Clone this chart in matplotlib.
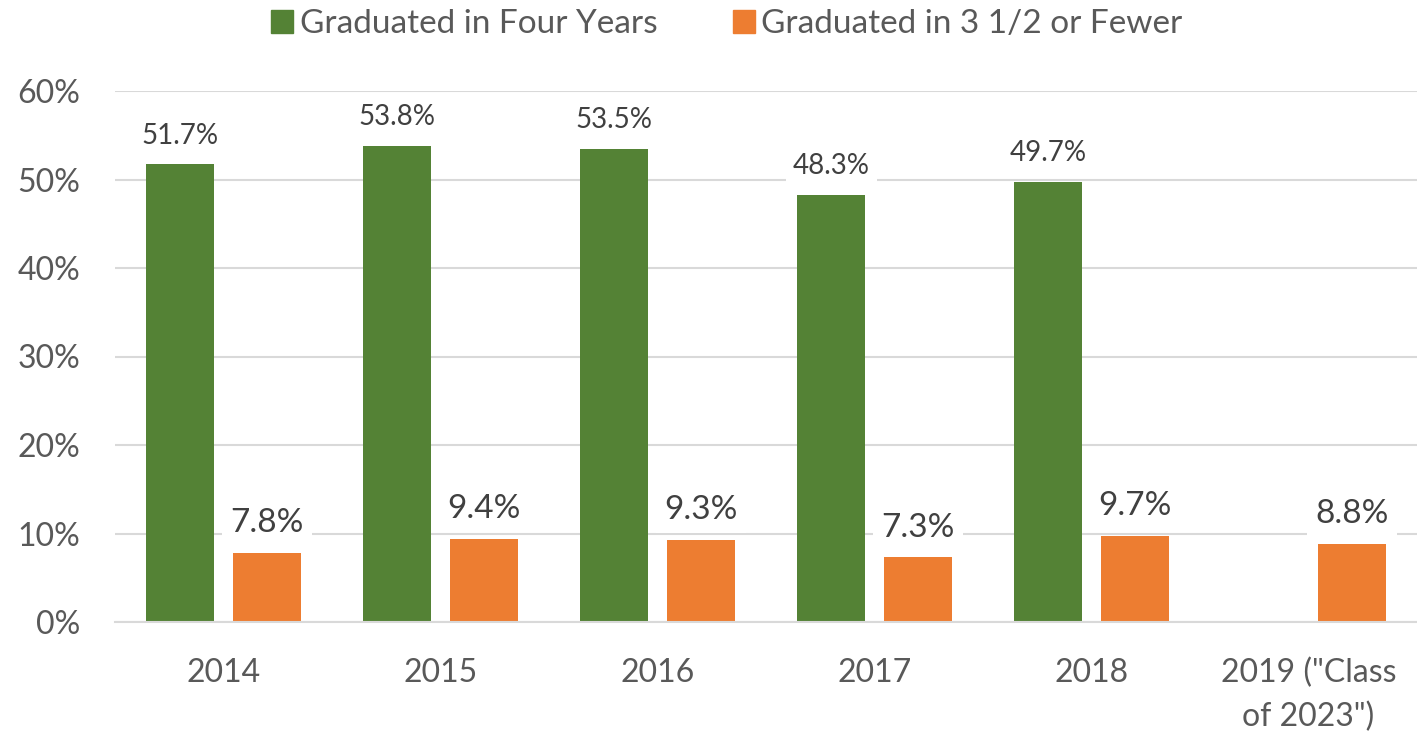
import matplotlib.pyplot as plt
import numpy as np
from matplotlib.patches import Patch

plt.rcParams['font.family'] = ['Lato', 'DejaVu Sans']

categories = ['2014', '2015', '2016', '2017', '2018', '2019 ("Class\nof 2023")']
four_years = [51.7, 53.8, 53.5, 48.3, 49.7, np.nan]
three_half = [7.8, 9.4, 9.3, 7.3, 9.7, 8.8]
series_names = ['Graduated in Four Years', 'Graduated in 3 1/2 or Fewer']

GREEN = '#548235'
ORANGE = '#ED7D31'
TICK_COLOR = '#595959'
LABEL_COLOR = '#404040'
GRID_COLOR = '#d9d9d9'

fig = plt.figure(figsize=(14.17, 7.33), dpi=100)
ax = fig.add_axes([115 / 1417, 1 - 622 / 733, 1 - 115 / 1417, (622 - 91) / 733])

x = np.arange(len(categories))
width = 0.315
offset = 0.2

ax.bar(x - offset, four_years, width, color=GREEN, zorder=2)
ax.bar(x + offset, three_half, width, color=ORANGE, zorder=2)

# white boxes behind the value labels hide the gridlines like in excel
box = dict(boxstyle='square,pad=0.25', fc='white', ec='none')
for xi, v in zip(x, four_years):
    if np.isnan(v):
        continue
    ax.annotate(f'{v:.1f}%', (xi - offset, v), xytext=(0, 15), textcoords='offset points',
                ha='center', va='baseline', fontsize=20, color=LABEL_COLOR, bbox=box, zorder=3)
for xi, v in zip(x, three_half):
    ax.annotate(f'{v:.1f}%', (xi + offset, v), xytext=(0, 15), textcoords='offset points',
                ha='center', va='baseline', fontsize=24, color=LABEL_COLOR, bbox=box, zorder=3)

ax.set_xlim(-0.5, len(categories) - 0.5)
ax.set_ylim(0, 60)
ax.set_yticks(np.arange(0, 61, 10))
ax.set_yticklabels([f'{t}%' for t in range(0, 61, 10)])
ax.set_xticks(x)
ax.set_xticklabels(categories, linespacing=1.55)
ax.yaxis.grid(True, color=GRID_COLOR, linewidth=1.5, zorder=0)
ax.set_axisbelow(True)
for s in ['top', 'right', 'left']:
    ax.spines[s].set_visible(False)
ax.spines['bottom'].set_color(GRID_COLOR)
ax.spines['bottom'].set_linewidth(1.5)
ax.tick_params(axis='both', length=0, colors=TICK_COLOR)
ax.tick_params(axis='y', labelsize=23, pad=25)
ax.tick_params(axis='x', labelsize=23, pad=26)

handles = [Patch(color=GREEN), Patch(color=ORANGE)]
fig.legend(handles, series_names, loc='center', bbox_to_anchor=(0.513, 0.967), ncol=2,
           frameon=False, fontsize=24, labelcolor=TICK_COLOR, handlelength=0.66, handleheight=0.66,
           handletextpad=0.2, columnspacing=2.25)

fig.savefig('out.png', dpi=100)
